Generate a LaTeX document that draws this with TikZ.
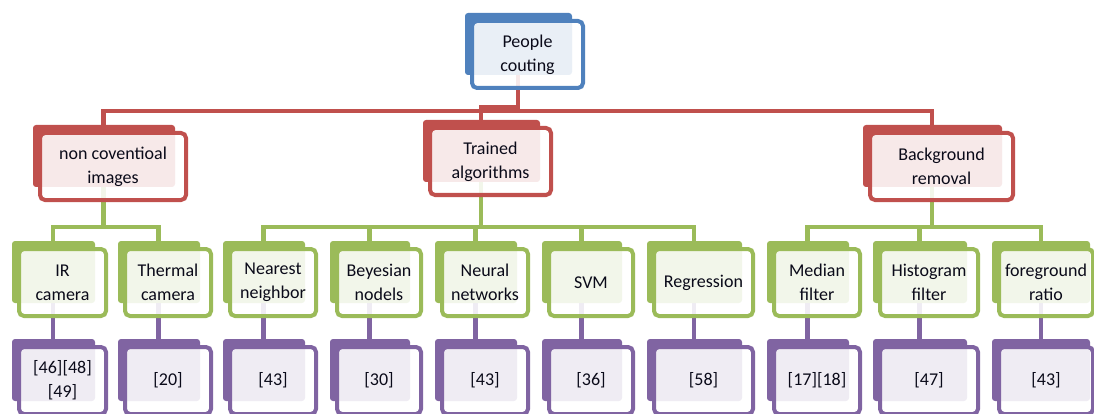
\documentclass[tikz,border=0pt]{standalone}
\usepackage{fontspec}
\setmainfont{Carlito}
\usetikzlibrary{calc}
\definecolor{blueC}{RGB}{79,129,189}
\definecolor{redC}{RGB}{192,80,77}
\definecolor{greenC}{RGB}{155,187,89}
\definecolor{purpleC}{RGB}{128,100,162}
\definecolor{txt}{RGB}{10,10,25}
\pgfdeclarelayer{conn}
\pgfdeclarelayer{back}
\pgfsetlayers{conn,back,main}
% back plate of a box: #1 right shift, #2 node, #3 colour
\newcommand\backplate[3][-13pt]{\fill[#3, rounded corners=3pt] ([xshift=-5pt,yshift=6pt]#2.north west) rectangle ([xshift=#1,yshift=15pt]#2.south east);}
% elbow link: #1 colour, #2 parent, #3 child, #4 middle y, #5 parent shift, #6 child shift
\newcommand\elbow[6]{%
  \path ([xshift=#5]#2.center) coordinate (P) ([xshift=#6]#3.center) coordinate (C) (0,#4) coordinate (Y);
  \draw[connline=#1] (P) -- (P |- Y) -| (C);}
\begin{document}
\begin{tikzpicture}[x=1pt,y=-1pt,
  box/.style={draw=#1, line width=4pt, rounded corners=5pt, fill=white,
    fill opacity=0.88, text opacity=1, inner sep=0pt, align=center,
    font=\fontsize{18}{24}\selectfont, text=txt, minimum height=67pt},
  connline/.style={draw=#1, line width=4.5pt},
]
\useasboundingbox (0,0) rectangle (1094,414);
% level 0
\node[box=blueC, minimum width=111pt] (top) at (527.5,54.5) {People\\couting};
% level 1
\node[box=redC, minimum width=146pt] (nonconv) at (113,166.5) {non coventioal\\images};
\node[box=redC, minimum width=121pt] (trained) at (490.5,161.5) {Trained\\algorithms};
\node[box=redC, minimum width=143pt] (bgrem) at (941.5,166.5) {Background\\removal};
% level 2
\node[box=greenC, minimum width=87pt] (ir) at (62.5,282.5) {IR\\camera};
\node[box=greenC, minimum width=86pt] (thermal) at (168,282.5) {Thermal\\camera};
\node[box=greenC, minimum width=86pt] (nearest) at (273,282.5) {Nearest\\neighbor};
\node[box=greenC, minimum width=84pt] (beyes) at (379,282.5) {Beyesian\\nodels};
\node[box=greenC, minimum width=86pt] (neural) at (485,282.5) {Neural\\networks};
\node[box=greenC, minimum width=84pt] (svm) at (591,282.5) {SVM};
\node[box=greenC, minimum width=99pt] (regr) at (703.5,282.5) {Regression};
\node[box=greenC, minimum width=86pt] (median) at (817,282.5) {Median\\filter};
\node[box=greenC, minimum width=98pt] (histo) at (929,282.5) {Histogram\\filter};
\node[box=greenC, minimum width=94pt] (fg) at (1046,282.5) {foreground\\ratio};
% level 3
\node[box=purpleC, minimum width=87pt] (r-ir) at (62.5,380.5) {[46][48]\\{[49]}};
\node[box=purpleC, minimum width=86pt] (r-thermal) at (168,380.5) {[20]};
\node[box=purpleC, minimum width=86pt] (r-nearest) at (273,380.5) {[43]};
\node[box=purpleC, minimum width=84pt] (r-beyes) at (379,380.5) {[30]};
\node[box=purpleC, minimum width=86pt] (r-neural) at (485,380.5) {[43]};
\node[box=purpleC, minimum width=84pt] (r-svm) at (591,380.5) {[36]};
\node[box=purpleC, minimum width=99pt] (r-regr) at (703.5,380.5) {[58]};
\node[box=purpleC, minimum width=86pt] (r-median) at (817,380.5) {[17][18]};
\node[box=purpleC, minimum width=98pt] (r-histo) at (929,380.5) {[47]};
\node[box=purpleC, minimum width=94pt] (r-fg) at (1046,380.5) {[43]};
% back plates
\begin{pgfonlayer}{back}
\backplate{top}{blueC}
\foreach \n in {nonconv,trained,bgrem}{\backplate{\n}{redC}}
\foreach \n in {ir,thermal,nearest,beyes,neural,svm,regr,median,histo}{\backplate{\n}{greenC}}
\backplate[-5pt]{fg}{greenC}
\foreach \n in {r-ir,r-thermal,r-nearest,r-beyes,r-neural,r-svm,r-regr,r-median,r-histo}{\backplate{\n}{purpleC}}
\backplate[-5pt]{r-fg}{purpleC}
\end{pgfonlayer}
% connectors
\begin{pgfonlayer}{conn}
\elbow{redC}{top}{nonconv}{111}{-9.5pt}{-9.5pt}
\elbow{redC}{top}{bgrem}{111}{-9.5pt}{-9.5pt}
\elbow{redC}{top}{trained}{107.5}{-9.5pt}{-9.5pt}
\foreach \c in {ir,thermal}{\elbow{greenC}{nonconv}{\c}{227}{-9.5pt}{-9.5pt}}
\foreach \c in {nearest,beyes,neural,svm,regr}{\elbow{greenC}{trained}{\c}{227}{-9.5pt}{-9.5pt}}
\foreach \c in {median,histo}{\elbow{greenC}{bgrem}{\c}{227}{-9.5pt}{-9.5pt}}
\elbow{greenC}{bgrem}{fg}{227}{-9.5pt}{-5pt}
\foreach \c in {ir,thermal,nearest,beyes,neural,svm,regr,median,histo}{%
  \path ([xshift=-9.5pt]\c.center) coordinate (P);
  \draw[connline=purpleC] (P) -- (P |- r-\c.center);}
\path ([xshift=-5pt]fg.center) coordinate (P);
\draw[connline=purpleC] (P) -- (P |- r-fg.center);
\end{pgfonlayer}
\end{tikzpicture}
\end{document}
